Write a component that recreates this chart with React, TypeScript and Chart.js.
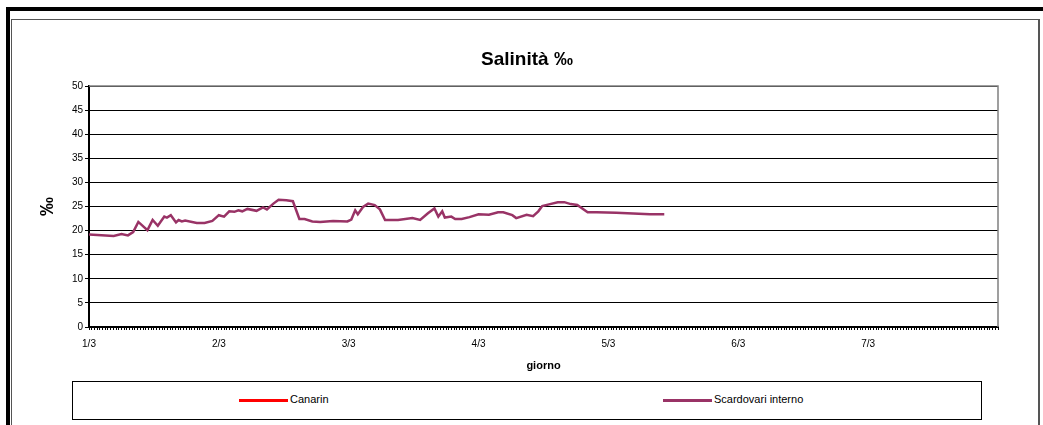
import {useEffect, useRef} from "react";
import {Chart, registerables} from "chart.js";

Chart.register(...registerables);

// x positions are days since 1/3
const days = [0, 0.19, 0.25, 0.3, 0.34, 0.38, 0.45, 0.49, 0.53, 0.58, 0.6, 0.63, 0.67, 0.69, 0.715, 0.74,
    0.83, 0.89, 0.95, 1.0, 1.04, 1.08, 1.12, 1.15, 1.18, 1.22, 1.29, 1.34, 1.37, 1.42, 1.46, 1.52, 1.57,
    1.62, 1.66, 1.72, 1.78, 1.88, 1.99, 2.02, 2.05, 2.07, 2.11, 2.15, 2.2, 2.24, 2.28, 2.32, 2.38, 2.49,
    2.55, 2.61, 2.66, 2.69, 2.72, 2.74, 2.79, 2.82, 2.87, 2.93, 3.0, 3.08, 3.15, 3.19, 3.26, 3.29, 3.37,
    3.42, 3.46, 3.49, 3.55, 3.61, 3.66, 3.71, 3.76, 3.84, 3.91, 4.06, 4.32, 4.43];
const scardovari = [19.2, 18.9, 19.3, 19.0, 19.7, 21.8, 20.1, 22.2, 21.0, 22.9, 22.7, 23.2, 21.7, 22.2, 21.9, 22.1,
    21.6, 21.6, 22.0, 23.2, 22.9, 24.0, 23.9, 24.2, 24.0, 24.5, 24.1, 24.8, 24.4, 25.6, 26.4, 26.3, 26.1,
    22.4, 22.4, 21.9, 21.8, 22.0, 21.9, 22.3, 24.2, 23.4, 24.9, 25.6, 25.3, 24.4, 22.2, 22.2, 22.2, 22.6,
    22.2, 23.6, 24.6, 22.9, 24.0, 22.7, 22.9, 22.4, 22.4, 22.8, 23.4, 23.3, 23.8, 23.8, 23.2, 22.6, 23.3,
    23.0, 24.0, 25.1, 25.5, 25.9, 25.9, 25.5, 25.3, 23.8, 23.8, 23.7, 23.4, 23.4];
const canarin: number[] = [];
const dayLabels = ["1/3", "2/3", "3/3", "4/3", "5/3", "6/3", "7/3"];

const font = "Arial, 'Liberation Sans', sans-serif";

export default function App() {
    const canvas = useRef<HTMLCanvasElement | null>(null);

    useEffect(() => {
        const chart = new Chart(canvas.current!, {
            type: "line",
            data: {
                datasets: [
                    {label: "Canarin", data: canarin, borderColor: "#ff0000", borderWidth: 2.5, pointRadius: 0},
                    {
                        label: "Scardovari interno",
                        data: days.map((d, i) => ({x: d, y: scardovari[i]})),
                        borderColor: "#993366", borderWidth: 2.5, pointRadius: 0, tension: 0
                    }
                ]
            },
            options: {
                animation: false,
                responsive: false,
                layout: {padding: {left: 36, right: 45, top: 86, bottom: 0}},
                plugins: {legend: {display: false}, title: {display: false}, tooltip: {enabled: false}},
                scales: {
                    x: {
                        type: "linear", min: 0, max: 7,
                        afterBuildTicks: (s: any) => {
                            const t = [];
                            for (let i = 0; i <= 336; i++) t.push({value: i / 48});
                            s.ticks = t;
                        },
                        afterFit: (s: any) => { s.height = 48; },
                        grid: {drawOnChartArea: false, color: "#000", tickLength: 3, tickWidth: 1},
                        border: {color: "#000", width: 2},
                        ticks: {
                            autoSkip: false, maxRotation: 0, color: "#000", font: {family: font, size: 10},
                            padding: 8,
                            callback: (v: any) => {
                                const r = Math.round(v);
                                return Math.abs(v - r) < 1e-6 && r < 7 ? dayLabels[r] : "";
                            }
                        },
                        title: {display: true, text: "giorno", color: "#000", font: {family: font, size: 11, weight: "bold"}, padding: {top: 4, bottom: 2}}
                    },
                    y: {
                        min: 0, max: 50,
                        afterFit: (s: any) => { s.width = 53; },
                        grid: {color: "#000", tickLength: 4, lineWidth: 1},
                        border: {color: "#000", width: 2},
                        ticks: {stepSize: 5, color: "#000", font: {family: font, size: 10}, padding: 2},
                        title: {display: true, text: "‰", color: "#000", font: {family: font, size: 19, weight: "bold"}, padding: 0}
                    }
                }
            },
            plugins: [{
                id: "frame",
                afterDraw: (c: any) => {
                    const {ctx, chartArea: a} = c;
                    ctx.save();
                    ctx.strokeStyle = "#808080";
                    ctx.lineWidth = 1.5;
                    ctx.beginPath();
                    ctx.moveTo(a.left, a.top);
                    ctx.lineTo(a.right, a.top);
                    ctx.lineTo(a.right, a.bottom);
                    ctx.stroke();
                    ctx.restore();
                }
            }]
        });
        return () => chart.destroy();
    }, []);

    return <div style={{position: "fixed", left: 0, top: 0, width: 1043, height: 425, background: "#fff", overflow: "hidden", fontFamily: font}}>
        <div style={{position: "absolute", left: 6, top: 7, width: 1045, height: 430, borderLeft: "4px solid #000", borderTop: "4px solid #000"}}/>
        <div style={{position: "absolute", left: 11, top: 19, width: 1026, height: 430, border: "1px solid #555", borderRightWidth: 2}}/>
        <canvas ref={canvas} width={1043} height={375} style={{position: "absolute", left: 0, top: 0}}/>
        <div style={{position: "absolute", left: 0, width: 1054, top: 48, textAlign: "center", fontWeight: "bold", fontSize: 19}}>Salinità ‰</div>
        <div style={{position: "absolute", left: 72, top: 381, width: 908, height: 37, border: "1px solid #000", fontSize: 11}}>
            <div style={{position: "absolute", left: 166, top: 17, width: 49, height: 3, background: "#ff0000"}}/>
            <div style={{position: "absolute", left: 217, top: 11}}>Canarin</div>
            <div style={{position: "absolute", left: 590, top: 17, width: 49, height: 3, background: "#993366"}}/>
            <div style={{position: "absolute", left: 641, top: 11}}>Scardovari interno</div>
        </div>
    </div>;
}
